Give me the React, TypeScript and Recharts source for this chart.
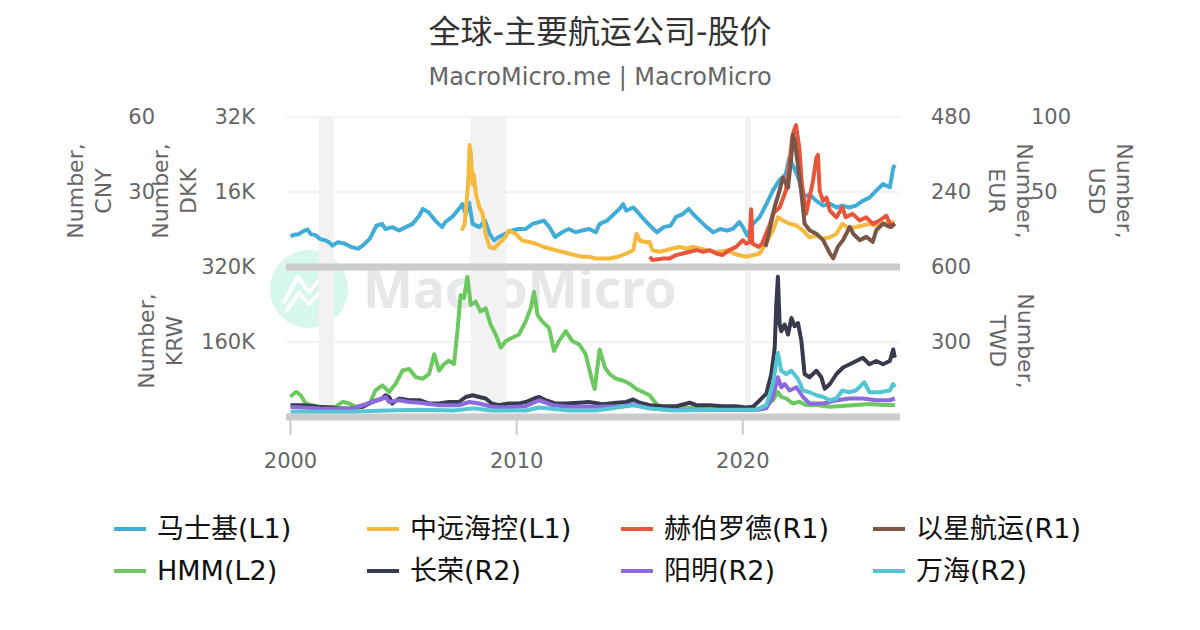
import { LineChart, Line, XAxis, YAxis, CartesianGrid, ReferenceArea } from 'recharts';

const FONT = '"DejaVu Sans", "Noto Sans CJK SC", sans-serif';

const YEAR_TICKS = [2000, 2010, 2020];
const X_DOMAIN: [number, number] = [1999.8, 2026.95];
const RECESSIONS: [number, number][] = [
  [2001.25, 2001.92],
  [2007.95, 2009.55],
  [2020.1, 2020.35],
];

// [year, price]
const MAERSK: [number, number][] = [
  [2000.0, 6500], [2000.15, 6900], [2000.35, 7000], [2000.55, 7600], [2000.75, 8000], [2000.9, 7000],
  [2001.1, 6800], [2001.3, 6000], [2001.55, 5650], [2001.7, 5300], [2001.85, 4600], [2002.1, 5300],
  [2002.4, 4950], [2002.7, 4250], [2003.0, 3900], [2003.2, 4600], [2003.5, 6000], [2003.8, 8800],
  [2004.05, 9200], [2004.2, 8100], [2004.5, 8500], [2004.8, 7800], [2005.1, 8500], [2005.4, 9200],
  [2005.7, 11000], [2005.85, 12400], [2006.1, 11700], [2006.4, 9900], [2006.7, 8500], [2006.85, 9600],
  [2007.15, 10700], [2007.45, 12400], [2007.6, 13400], [2007.75, 11300], [2007.9, 13700], [2008.05, 9200],
  [2008.35, 8500], [2008.6, 9900], [2008.8, 7100], [2009.0, 5650], [2009.2, 6400], [2009.5, 7100],
  [2009.8, 7800], [2010.1, 8100], [2010.4, 8100], [2010.7, 9200], [2011.0, 9600], [2011.2, 9900],
  [2011.45, 8500], [2011.7, 6400], [2012.0, 7400], [2012.3, 8100], [2012.6, 7400], [2012.9, 7800],
  [2013.2, 8100], [2013.5, 7400], [2013.67, 9200], [2014.0, 9900], [2014.3, 11300], [2014.55, 12400],
  [2014.7, 13400], [2014.85, 12000], [2015.15, 12700], [2015.3, 12000], [2015.6, 10300], [2015.9, 8800],
  [2016.2, 7400], [2016.5, 8500], [2016.8, 8800], [2017.05, 10700], [2017.35, 11300], [2017.6, 12400],
  [2017.8, 11300], [2018.1, 9900], [2018.4, 8500], [2018.7, 7400], [2019.0, 8100], [2019.3, 7800],
  [2019.55, 8100], [2019.85, 9600], [2020.0, 8500], [2020.2, 6700], [2020.45, 9200], [2020.75, 10700],
  [2021.05, 13500], [2021.33, 16300], [2021.6, 18400], [2021.9, 19800], [2022.05, 23300], [2022.27, 21100],
  [2022.5, 18400], [2022.66, 14800], [2022.95, 15500], [2023.25, 14100], [2023.55, 13100], [2023.85, 13500],
  [2024.15, 12700], [2024.4, 13100], [2024.7, 12700], [2025.0, 13100], [2025.3, 14100], [2025.6, 14800],
  [2025.9, 16300], [2026.2, 17700], [2026.5, 17000], [2026.65, 21100], [2026.72, 21800],
];

const COSCO: [number, number][] = [
  [2007.57, 14.6], [2007.7, 17.3], [2007.85, 33.0], [2007.92, 48.8], [2007.98, 44.9], [2008.05, 33.0],
  [2008.1, 37.0], [2008.2, 29.1], [2008.35, 23.9], [2008.5, 21.2], [2008.62, 13.3], [2008.8, 8.0],
  [2009.0, 7.4], [2009.2, 9.3], [2009.5, 11.9], [2009.65, 14.6], [2009.95, 13.3], [2010.25, 10.6],
  [2010.55, 10.0], [2010.85, 9.3], [2011.2, 8.0], [2011.45, 7.4], [2011.73, 6.7], [2012.0, 6.1],
  [2012.3, 5.4], [2012.6, 4.7], [2012.9, 4.1], [2013.2, 4.1], [2013.5, 3.4], [2014.1, 3.4],
  [2014.5, 4.1], [2014.85, 5.4], [2015.15, 6.7], [2015.3, 13.3], [2015.45, 10.6], [2015.65, 10.0],
  [2015.88, 10.0], [2016.0, 6.7], [2016.3, 6.1], [2016.6, 6.7], [2016.9, 7.4], [2017.2, 8.0],
  [2017.5, 7.4], [2017.8, 8.0], [2018.1, 7.4], [2018.4, 6.7], [2018.7, 6.1], [2019.0, 6.1],
  [2019.3, 6.7], [2019.6, 5.4], [2019.85, 4.7], [2020.15, 4.1], [2020.45, 4.7], [2020.75, 5.4],
  [2021.0, 9.3], [2021.33, 14.6], [2021.55, 19.9], [2021.77, 18.6], [2022.07, 17.3], [2022.37, 16.6],
  [2022.66, 14.6], [2022.95, 11.9], [2023.25, 12.6], [2023.55, 11.3], [2023.85, 11.9], [2024.15, 13.3],
  [2024.4, 17.3], [2024.7, 15.3], [2025.0, 16.0], [2025.3, 16.6], [2025.6, 17.3], [2025.9, 16.6],
  [2026.2, 17.3], [2026.5, 17.9], [2026.72, 17.9],
];

const HAPAG: [number, number][] = [
  [2015.88, 32.8], [2016.0, 22.3], [2016.25, 25], [2016.5, 27.6], [2016.77, 27.6], [2017.05, 38.1],
  [2017.35, 43.3], [2017.65, 48.6], [2017.95, 53.9], [2018.25, 48.6], [2018.55, 53.9], [2018.83, 43.3],
  [2019.1, 38.1], [2019.4, 53.9], [2019.7, 64.4], [2020.0, 85.5], [2020.15, 75], [2020.3, 80],
  [2020.37, 185], [2020.42, 75], [2020.7, 64.4], [2020.85, 75], [2020.97, 96], [2021.2, 138],
  [2021.33, 170], [2021.63, 191], [2021.9, 243], [2022.05, 328], [2022.2, 423], [2022.35, 454],
  [2022.5, 380], [2022.6, 275], [2022.8, 170], [2022.95, 222], [2023.1, 275], [2023.25, 349],
  [2023.32, 359], [2023.4, 243], [2023.55, 212], [2023.7, 222], [2023.85, 180], [2024.14, 159],
  [2024.4, 191], [2024.55, 159], [2024.85, 170], [2025.17, 149], [2025.45, 159], [2025.75, 138],
  [2026.05, 149], [2026.35, 164], [2026.57, 128], [2026.72, 138],
];

const ZIM: [number, number][] = [
  [2021.0, 13.4], [2021.15, 22.2], [2021.4, 39.8], [2021.62, 50.8], [2021.77, 59.5], [2022.0, 52.9],
  [2022.14, 72.7], [2022.22, 88.1], [2022.3, 83.7], [2022.43, 68.3], [2022.58, 50.8], [2022.73, 28.9],
  [2022.95, 24.5], [2023.25, 22.2], [2023.55, 17.9], [2023.85, 9.1], [2024.0, 5.8], [2024.2, 13.4],
  [2024.43, 17.9], [2024.73, 26.7], [2024.88, 22.2], [2025.17, 17.9], [2025.46, 20.1], [2025.75, 16.8],
  [2025.9, 24.5], [2026.2, 28.9], [2026.5, 26.7], [2026.72, 28.9],
];

const HMM: [number, number][] = [
  [2000.0, 42900], [2000.1, 48000], [2000.25, 53400], [2000.45, 46400], [2000.67, 28900], [2000.97, 25400],
  [2001.26, 21900], [2001.7, 20500], [2002.0, 21900], [2002.3, 32400], [2002.6, 28900], [2002.9, 21900],
  [2003.2, 25400], [2003.5, 28900], [2003.76, 57000], [2004.06, 67500], [2004.36, 53400], [2004.65, 71000],
  [2004.95, 99100], [2005.25, 102600], [2005.54, 85000], [2005.84, 81500], [2006.13, 92000], [2006.35, 134000],
  [2006.57, 99100], [2006.79, 113000], [2007.0, 120000], [2007.23, 113000], [2007.38, 183000], [2007.52, 260000],
  [2007.67, 253000], [2007.82, 299000], [2007.97, 239000], [2008.19, 246000], [2008.4, 225000], [2008.63, 232000],
  [2008.85, 197000], [2009.07, 176000], [2009.3, 148000], [2009.52, 162000], [2009.8, 169000], [2010.1, 176000],
  [2010.4, 204000], [2010.62, 232000], [2010.77, 267000], [2010.92, 218000], [2011.13, 204000], [2011.43, 190000],
  [2011.65, 141000], [2011.87, 162000], [2012.17, 183000], [2012.46, 162000], [2012.76, 155000], [2013.05, 134000],
  [2013.3, 84200], [2013.45, 59600], [2013.67, 144000], [2013.9, 106000], [2014.1, 92000], [2014.4, 81500],
  [2014.7, 78000], [2015.0, 71000], [2015.3, 59600], [2015.59, 53400], [2015.88, 46400], [2016.1, 32400],
  [2016.4, 18300], [2016.8, 18300], [2017.35, 20500], [2017.95, 18300], [2018.53, 16800], [2019.1, 14700],
  [2019.7, 14700], [2020.3, 14700], [2020.75, 18300], [2021.04, 25400], [2021.33, 35900], [2021.55, 53400],
  [2021.7, 42900], [2021.92, 39400], [2022.2, 28900], [2022.5, 32400], [2022.8, 25400], [2023.25, 25400],
  [2023.85, 21900], [2024.4, 23300], [2025.0, 25400], [2025.6, 27500], [2026.2, 25400], [2026.72, 25400],
];

const EVERGREEN: [number, number][] = [
  [2000.0, 47], [2000.6, 47], [2001.2, 41], [2001.8, 38], [2002.1, 34.5], [2002.7, 34.5],
  [2003.2, 41], [2003.6, 60], [2004.06, 74], [2004.2, 87], [2004.36, 80], [2004.5, 54],
  [2004.8, 74], [2005.25, 67], [2005.7, 67], [2006.1, 54], [2006.57, 54], [2007.0, 60],
  [2007.45, 60], [2007.75, 80], [2008.05, 87], [2008.35, 80], [2008.63, 74], [2008.9, 54],
  [2009.2, 47], [2009.65, 54], [2010.1, 54], [2010.4, 60], [2010.77, 74], [2011.0, 80],
  [2011.28, 67], [2011.7, 54], [2012.17, 54], [2012.76, 57], [2013.2, 60], [2013.8, 51],
  [2014.4, 57], [2014.85, 60], [2015.15, 70], [2015.45, 57], [2015.88, 47], [2016.47, 43],
  [2017.06, 43], [2017.65, 57], [2017.95, 47], [2018.53, 47], [2019.1, 43], [2019.7, 43],
  [2020.15, 38], [2020.45, 41], [2020.75, 67], [2021.04, 93], [2021.26, 172], [2021.41, 277],
  [2021.48, 449], [2021.55, 561], [2021.63, 370], [2021.7, 343], [2021.85, 370], [2022.0, 330],
  [2022.15, 396], [2022.29, 363], [2022.44, 376], [2022.59, 304], [2022.73, 172], [2022.95, 159],
  [2023.25, 185], [2023.47, 159], [2023.62, 113], [2023.85, 132], [2024.14, 172], [2024.43, 198],
  [2024.73, 211], [2025.02, 224], [2025.3, 237], [2025.6, 211], [2025.9, 224], [2026.2, 211],
  [2026.5, 224], [2026.65, 270], [2026.72, 237],
];

const YANGMING: [number, number][] = [
  [2000.0, 40], [2001.3, 34.5], [2002.7, 32], [2003.2, 47], [2003.6, 60], [2004.06, 74],
  [2004.2, 80], [2004.36, 60], [2004.8, 67], [2005.25, 60], [2005.7, 57], [2006.57, 47],
  [2007.45, 47], [2007.9, 60], [2008.35, 54], [2008.9, 41], [2009.5, 38], [2010.4, 43],
  [2011.0, 67], [2011.6, 47], [2012.3, 41], [2013.5, 41], [2014.7, 43], [2015.15, 51],
  [2015.88, 34.5], [2016.9, 28], [2018.5, 28], [2020.6, 28], [2021.04, 34.5], [2021.33, 80],
  [2021.55, 159], [2021.7, 119], [2021.85, 132], [2022.07, 106], [2022.37, 119], [2022.66, 80],
  [2022.95, 54], [2023.55, 54], [2024.14, 67], [2024.73, 74], [2025.3, 74], [2025.9, 67],
  [2026.5, 67], [2026.72, 74],
];

const WANHAI: [number, number][] = [
  [2000.0, 21], [2002.7, 21], [2004.2, 26], [2005.7, 29], [2007.2, 26], [2008.1, 34.5],
  [2008.9, 26], [2010.4, 26], [2011.0, 38], [2012.3, 26], [2013.5, 26], [2015.15, 47],
  [2015.88, 34.5], [2016.9, 26], [2019.1, 29], [2020.6, 29], [2021.04, 47], [2021.33, 132],
  [2021.55, 257], [2021.7, 185], [2021.92, 172], [2022.15, 185], [2022.44, 152], [2022.66, 106],
  [2022.95, 99], [2023.25, 87], [2023.55, 80], [2023.85, 67], [2024.14, 74], [2024.4, 106],
  [2024.7, 99], [2025.0, 106], [2025.37, 139], [2025.6, 99], [2026.05, 99], [2026.5, 106],
  [2026.65, 132], [2026.72, 119],
];

const SERIES = [
  { name: '马士基(L1)', color: '#40add9', data: MAERSK },
  { name: '中远海控(L1)', color: '#f6b93f', data: COSCO },
  { name: '赫伯罗德(R1)', color: '#e9553b', data: HAPAG },
  { name: '以星航运(R1)', color: '#7b5546', data: ZIM },
  { name: 'HMM(L2)', color: '#6cc95f', data: HMM },
  { name: '长荣(R2)', color: '#373b4d', data: EVERGREEN },
  { name: '阳明(R2)', color: '#8c6ade', data: YANGMING },
  { name: '万海(R2)', color: '#52c6d4', data: WANHAI },
];

type Side = 'left' | 'right';
interface AxisDef { side: Side; max: number; ticks: number[]; margin: number; unit: string; unitX: number }

const DKK: AxisDef = { side: 'left', max: 32000, ticks: [16000, 32000], margin: 31, unit: 'DKK', unitX: 188 };
const CNY: AxisDef = { side: 'left', max: 60, ticks: [30, 60], margin: 131, unit: 'CNY', unitX: 103 };
const EUR: AxisDef = { side: 'right', max: 480, ticks: [240, 480], margin: 31, unit: 'EUR', unitX: 996 };
const USD: AxisDef = { side: 'right', max: 100, ticks: [50, 100], margin: 131, unit: 'USD', unitX: 1096 };
const KRW: AxisDef = { side: 'left', max: 320000, ticks: [160000, 320000], margin: 31, unit: 'KRW', unitX: 174 };
const TWD: AxisDef = { side: 'right', max: 600, ticks: [300, 600], margin: 31, unit: 'TWD', unitX: 997 };

const TOP_PANEL = { top: 97, height: 180, bottom: 10 };
const BOTTOM_PANEL = { top: 247, height: 240, bottom: 70 };
const TITLE_Y = 94;

const fmtTick = (v: number) => (v >= 1000 ? `${v / 1000}K` : `${v}`);
const toPoints = (arr: [number, number][]) => arr.map(([x, y]) => ({ x, y }));

function AxisTitle({ axis }: { axis: AxisDef }) {
  const angle = axis.side === 'left' ? -90 : 90;
  const numberX = axis.side === 'left' ? axis.unitX - 28 : axis.unitX + 28;
  return (
    <g fill="#666666" fontSize={22} fontFamily={FONT}>
      <text transform={`translate(${numberX},${TITLE_Y}) rotate(${angle})`} textAnchor="middle" dominantBaseline="central">
        Number,
      </text>
      <text transform={`translate(${axis.unitX},${TITLE_Y}) rotate(${angle})`} textAnchor="middle" dominantBaseline="central">
        {axis.unit}
      </text>
    </g>
  );
}

interface LayerProps {
  panel: { top: number; height: number; bottom: number };
  axis: AxisDef;
  showAxis?: boolean;
  lines?: typeof SERIES;
  backdrop?: boolean;
  base?: boolean;
  years?: boolean;
}

function Layer({ panel, axis, showAxis = false, lines = [], backdrop = false, base = false, years = false }: LayerProps) {
  const margin = {
    top: 20,
    bottom: base ? 0 : panel.bottom,
    left: showAxis && axis.side === 'left' ? 0 : 286,
    right: showAxis && axis.side === 'right' ? 0 : 300,
  };
  return (
    <div style={{ position: 'absolute', left: 0, top: panel.top }}>
      <LineChart width={1200} height={panel.height} margin={margin}>
        {backdrop && <CartesianGrid vertical={false} stroke="#e6e6e6" />}
        {backdrop &&
          RECESSIONS.map(([a, b]) => (
            <ReferenceArea key={a} x1={a} x2={b} fill="#f2f2f2" fillOpacity={1} stroke="none" />
          ))}
        <XAxis
          type="number"
          dataKey="x"
          domain={X_DOMAIN}
          ticks={YEAR_TICKS}
          allowDataOverflow
          hide={!base}
          height={panel.bottom}
          axisLine={{ stroke: '#cccccc', strokeWidth: 7 }}
          tickLine={years ? { stroke: '#cccccc', strokeWidth: 2 } : false}
          tick={years ? { fill: '#666666', fontSize: 21, fontFamily: FONT } : false}
          tickSize={18}
          tickMargin={18}
          interval={0}
        />
        <YAxis
          type="number"
          orientation={axis.side}
          width={axis.side === 'left' ? 286 : 300}
          hide={!showAxis && !backdrop}
          domain={[0, axis.max]}
          ticks={axis.ticks}
          allowDataOverflow
          interval={0}
          tickFormatter={fmtTick}
          axisLine={false}
          tickLine={false}
          tickSize={0}
          tickMargin={axis.margin}
          tick={showAxis ? { fill: '#666666', fontSize: 21, fontFamily: FONT } : false}
          label={showAxis ? { content: () => <AxisTitle axis={axis} /> } : undefined}
        />
        {lines.map((s) => (
          <Line
            key={s.name}
            data={toPoints(s.data)}
            dataKey="y"
            type="linear"
            stroke={s.color}
            strokeWidth={4}
            strokeLinejoin="round"
            dot={false}
            activeDot={false}
            isAnimationActive={false}
          />
        ))}
      </LineChart>
    </div>
  );
}

function Watermark() {
  return (
    <svg width={1200} height={630} style={{ position: 'absolute', left: 0, top: 0 }}>
      <circle cx={309} cy={289} r={39} fill="#d6f6ee" />
      <g fill="none" stroke="#ffffff" strokeWidth={4} strokeLinejoin="round" strokeLinecap="round">
        <polyline points="284,302 298,277 309,292 321,278" />
        <circle cx={327} cy={274} r={4} />
        <polyline points="287,310 299,293 309,304 320,292 333,306" />
      </g>
      <text x={363} y={308} fontSize={53} fontWeight={700} fontFamily='"Noto Sans", sans-serif' fill="#e6e7e9">
        MacroMicro
      </text>
    </svg>
  );
}

const LEGEND_COLS = [114, 367, 621, 873];
const LEGEND_ROWS = [529, 571];

export default function App() {
  const [maersk, cosco, hapag, zim, hmm, evergreen, yangming, wanhai] = SERIES;
  return (
    <div style={{ position: 'relative', width: 1200, height: 630, background: '#ffffff', overflow: 'hidden', fontFamily: FONT }}>
      <style>{'body{margin:0}'}</style>
      <div style={{ position: 'absolute', top: 16, width: 1200, textAlign: 'center', fontSize: 32, lineHeight: '32px', color: '#333333' }}>
        全球-主要航运公司-股价
      </div>
      <div style={{ position: 'absolute', top: 65, width: 1200, textAlign: 'center', fontSize: 24, lineHeight: '24px', color: '#666666' }}>
        MacroMicro.me | MacroMicro
      </div>

      <Watermark />

      {/* bottom panel first so the top panel's base line sits over it */}
      <Layer panel={BOTTOM_PANEL} axis={KRW} showAxis backdrop />
      <Layer panel={BOTTOM_PANEL} axis={KRW} lines={[hmm]} />
      <Layer panel={BOTTOM_PANEL} axis={TWD} showAxis lines={[evergreen, yangming, wanhai]} />
      <Layer panel={BOTTOM_PANEL} axis={KRW} base years />

      <Layer panel={TOP_PANEL} axis={DKK} showAxis backdrop />
      <Layer panel={TOP_PANEL} axis={DKK} lines={[maersk]} />
      <Layer panel={TOP_PANEL} axis={CNY} showAxis lines={[cosco]} />
      <Layer panel={TOP_PANEL} axis={EUR} showAxis lines={[hapag]} />
      <Layer panel={TOP_PANEL} axis={USD} showAxis lines={[zim]} />
      <Layer panel={TOP_PANEL} axis={DKK} base />

      {SERIES.map((s, i) => {
        const x = LEGEND_COLS[i % 4];
        const y = LEGEND_ROWS[Math.floor(i / 4)];
        return (
          <div key={s.name} style={{ position: 'absolute', left: x, top: y - 15, height: 30, display: 'flex', alignItems: 'center' }}>
            <div style={{ width: 32, height: 4, background: s.color, marginRight: 11 }} />
            <span style={{ fontSize: 27, lineHeight: '30px', color: '#111111', whiteSpace: 'nowrap' }}>{s.name}</span>
          </div>
        );
      })}
    </div>
  );
}
